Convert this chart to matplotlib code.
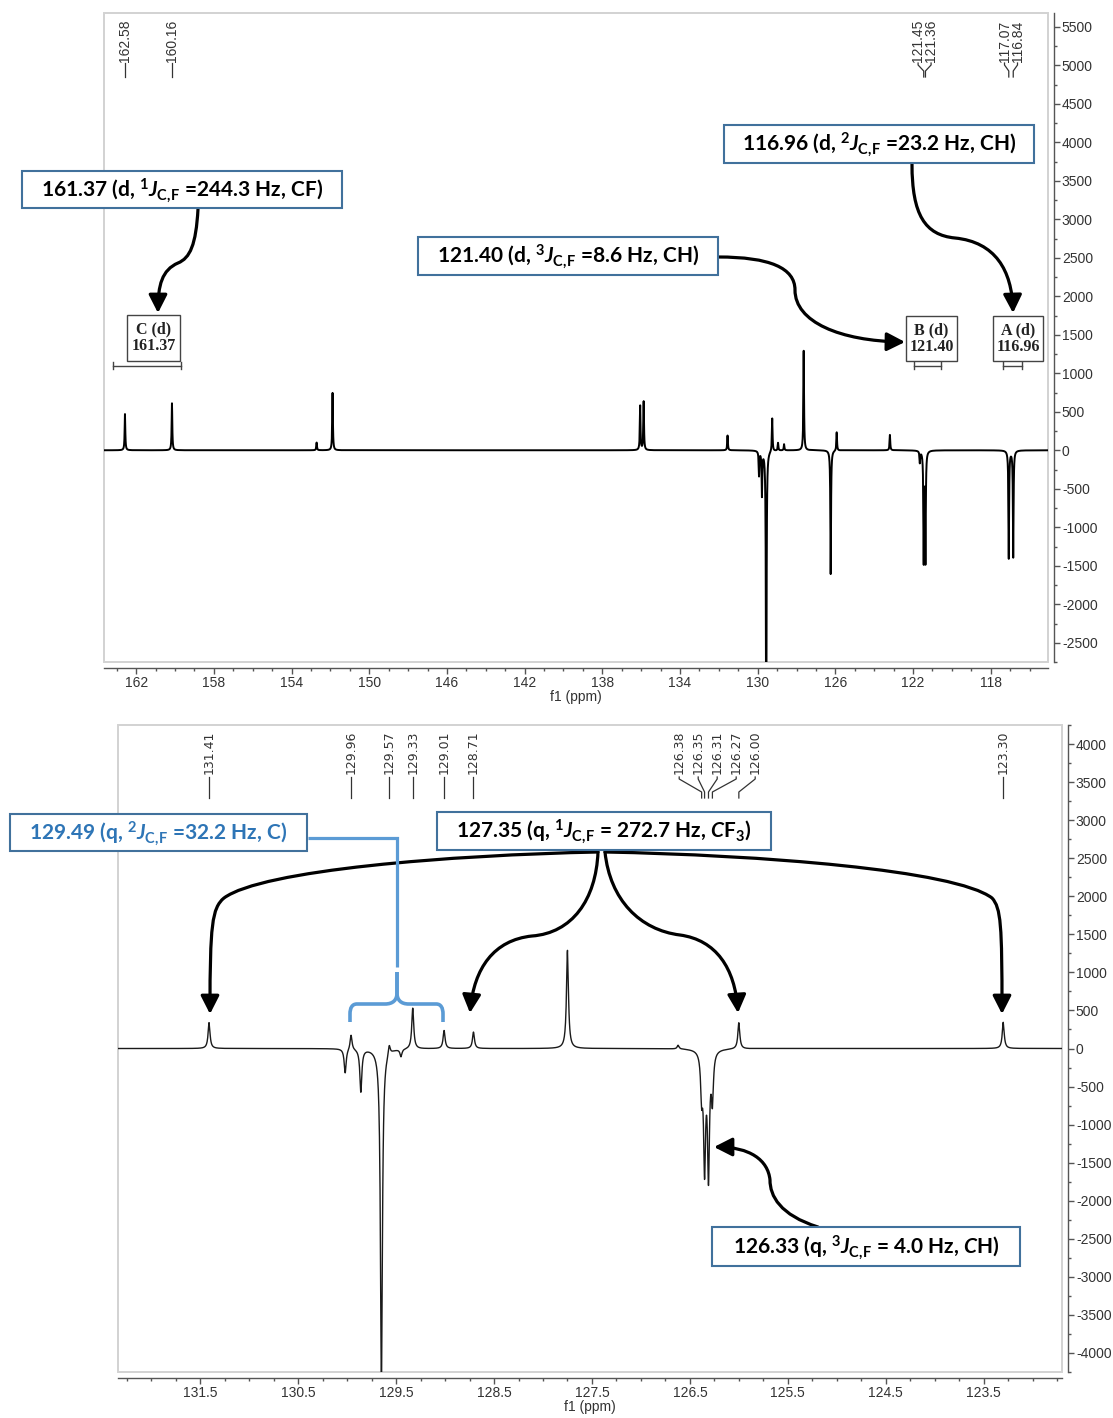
import numpy as np
import matplotlib
matplotlib.use("Agg")
import matplotlib.pyplot as plt
import matplotlib.transforms as mtransforms
from matplotlib.patches import Rectangle, FancyArrowPatch, ArrowStyle, PathPatch
from matplotlib.path import Path

W, H = 1113, 1418

# ---------------- data: full 13C spectrum (upper panel) ----------------
top_ppm = [162.58, 160.16, 152.71, 151.89, 136.05, 135.87, 131.55, 129.93, 129.78,
           129.56, 129.25, 128.95, 128.64, 127.63, 126.24, 125.93, 123.19, 121.65,
           121.45, 121.36, 117.07, 116.84]
top_height = [470, 610, 100, 745, 576, 631, 192, -320, -572,
              -4100, 431, 100, 80, 1293, -1609, 240, 200, -150,
              -1420, -1420, -1400, -1385]
top_xlim = (163.66, 115.05)
top_ylim = (-2628, 5679)
top_xticks = [162, 158, 154, 150, 146, 142, 138, 134, 130, 126, 122, 118]
top_yticks = [-2500, -2000, -1500, -1000, -500, 0, 500, 1000, 1500, 2000,
              2500, 3000, 3500, 4000, 4500, 5000, 5500]
top_peak_labels = [162.58, 160.16, 121.45, 121.36, 117.07, 116.84]

# multiplet tags in the upper panel
mult_names = ["C (d)", "B (d)", "A (d)"]
mult_values = ["161.37", "121.40", "116.96"]
mult_ranges = [(163.18, 159.71), (121.95, 120.56), (117.38, 116.37)]

# ---------------- data: expansion 122.7-132.3 ppm (lower panel) ----------------
bot_ppm = [131.41, 130.02, 129.96, 129.86, 129.65, 129.57, 129.45, 129.33, 129.01,
           128.71, 127.75, 126.62, 126.38, 126.35, 126.31, 126.27, 126.00, 123.30]
bot_height = [340, -320, 200, -562, -4400, 135, -100, 537, 237,
              216, 1290, 50, -540, -1500, -1610, -620, 344, 344]
bot_xlim = (132.34, 122.70)
bot_ylim = (-4154, 4154)
bot_xticks = [131.5, 130.5, 129.5, 128.5, 127.5, 126.5, 125.5, 124.5, 123.5]
bot_yticks = [-4000, -3500, -3000, -2500, -2000, -1500, -1000, -500, 0, 500,
              1000, 1500, 2000, 2500, 3000, 3500, 4000]
bot_peak_labels = [131.41, 129.96, 129.57, 129.33, 129.01, 128.71,
                   126.38, 126.35, 126.31, 126.27, 126.00, 123.30]

# ---------------- fonts ----------------
TICKFONT = ["Liberation Sans", "DejaVu Sans"]
plt.rcParams["mathtext.fontset"] = "custom"
plt.rcParams["mathtext.rm"] = "Lato:bold"
plt.rcParams["mathtext.bf"] = "Lato:bold"
plt.rcParams["mathtext.it"] = "Lato:italic:bold"

BOX_EDGE = "#41719C"
BLUE_TXT = "#2E75B6"
BRACKET = "#5B9BD5"
AX_GREY = "#555555"
TXT_GREY = "#333333"


def lorentz_trace(lo, hi, step, centers, heights, hwhm):
    grid = np.union1d(np.arange(lo, hi, step), np.asarray(centers))
    y = np.zeros_like(grid)
    for c, h in zip(centers, heights):
        y += h / (1.0 + ((grid - c) / hwhm) ** 2)
    return grid, y


fig = plt.figure(figsize=(W / 100, H / 100), dpi=100)
fig.patch.set_facecolor("white")


def fig_rect(l, t, r, b):
    return [l / W, 1 - b / H, (r - l) / W, (b - t) / H]


# pixel (y down) -> figure transform for overlay drawings
PX = mtransforms.Affine2D().scale(1 / W, -1 / H).translate(0, 1) + fig.transFigure

ax1 = fig.add_axes(fig_rect(104, 13, 1048, 662))
ax2 = fig.add_axes(fig_rect(118, 725, 1062, 1372))


def style_axes(ax, xlim, ylim, xt, xt_minor, xt_labels, yt, yt_minor):
    ax.set_xlim(*xlim)
    ax.set_ylim(*ylim)
    ax.set_facecolor("white")
    for s in ("top", "left"):
        ax.spines[s].set_visible(False)
    for s in ("right", "bottom"):
        ax.spines[s].set_position(("outward", 4))
        ax.spines[s].set_color(AX_GREY)
        ax.spines[s].set_linewidth(1.0)
    ax.add_patch(Rectangle((0, 0), 1, 1, transform=ax.transAxes, fill=False,
                           ec="#d2d2d2", lw=1.4, clip_on=False, zorder=0))
    ax.yaxis.tick_right()
    ax.set_xticks(xt, labels=xt_labels, fontsize=10, family=TICKFONT, color=TXT_GREY)
    ax.set_xticks(xt_minor, minor=True)
    ax.set_yticks(yt, labels=[str(v) for v in yt], fontsize=10, family=TICKFONT,
                  color=TXT_GREY)
    ax.set_yticks(yt_minor, minor=True)
    ax.tick_params(which="both", direction="out", color=AX_GREY, width=1)
    ax.tick_params(which="major", length=4.5, pad=1.5)
    ax.tick_params(which="minor", length=2.5)
    ax.set_xlabel("f1 (ppm)", fontsize=10, family=TICKFONT, color=TXT_GREY, labelpad=0)


style_axes(ax1, top_xlim, top_ylim, top_xticks, np.arange(116, 164, 1),
           [str(v) for v in top_xticks], top_yticks, np.arange(-2750, 5700, 250))
style_axes(ax2, bot_xlim, bot_ylim, bot_xticks, np.arange(122.75, 132.4, 0.25),
           [f"{v:.1f}" for v in bot_xticks], bot_yticks, np.arange(-4250, 4300, 250))

# spectra
gx, gy = lorentz_trace(top_xlim[1], top_xlim[0], 0.004, top_ppm, top_height, 0.02)
ax1.plot(gx, gy, color="black", lw=1.4, zorder=2)
bx, by = lorentz_trace(bot_xlim[1], bot_xlim[0], 0.002, bot_ppm, bot_height, 0.012)
ax2.plot(bx, by, color="#1a1a1a", lw=1.0, zorder=2)


# ---------------- peak labels ----------------
def spread(xs, gap):
    clusters = [[x] for x in sorted(xs)]
    merged = True
    while merged:
        merged = False
        spans = []
        for c in clusters:
            m, n = np.mean(c), len(c)
            spans.append((m - gap * (n - 1) / 2, m + gap * (n - 1) / 2))
        for i in range(len(clusters) - 1):
            if spans[i][1] + gap > spans[i + 1][0]:
                clusters[i] = clusters[i] + clusters[i + 1]
                del clusters[i + 1]
                merged = True
                break
    out = []
    for c in clusters:
        m, n = np.mean(c), len(c)
        out += list(m + gap * (np.arange(n) - (n - 1) / 2))
    return out


def peak_labels(ax, peaks, rect_px, gap_px, fsize, family, y_txt, y_a, y_b, y_c,
                shift_px=0.0):
    l, t, r, b = rect_px
    x0, x1 = ax.get_xlim()
    ppm_per_px = (x0 - x1) / (r - l)
    yfrac = lambda y: (b - y) / (b - t)
    trans = mtransforms.blended_transform_factory(ax.transData, ax.transAxes)
    order = sorted(peaks, reverse=True)
    # spread in "minus ppm" so that positions increase left to right
    pos = spread([-p for p in order], gap_px * ppm_per_px)
    for p, q in zip(order, pos):
        xl = -q
        if abs(xl - p) > 1e-9:
            xl -= shift_px * ppm_per_px
        ax.text(xl, yfrac(y_txt), f"{p:.2f}", rotation=90, rotation_mode="anchor",
                ha="left", va="center", fontsize=fsize, family=family,
                color=TXT_GREY, transform=trans, clip_on=False)
        ax.plot([xl, xl, p, p], [yfrac(y_a), yfrac(y_a + 2), yfrac(y_b), yfrac(y_c)],
                color=TXT_GREY, lw=0.9, transform=trans, clip_on=False)


peak_labels(ax1, top_peak_labels, (104, 13, 1048, 662), 13, 10,
            ["Liberation Sans", "DejaVu Sans"], 62, 63, 71, 77)
peak_labels(ax2, bot_peak_labels, (118, 725, 1062, 1372), 19, 9,
            ["DejaVu Sans"], 774, 777, 792, 798, shift_px=4)

# ---------------- multiplet tags (upper panel) ----------------
tag_boxes_px = [(127, 315, 180, 361), (906, 316, 957, 361), (993, 316, 1043, 361)]
trans1 = mtransforms.blended_transform_factory(ax1.transData, ax1.transAxes)
bar_y = (662 - 366) / (662 - 13)
tick_h = 3.5 / (662 - 13)
for name, val, (a, bnd), (l, t, r, b) in zip(mult_names, mult_values, mult_ranges,
                                             tag_boxes_px):
    fig.add_artist(Rectangle((l, t), r - l, b - t, transform=PX, fill=True,
                             fc="white", ec="#444444", lw=1.0))
    fig.text(((l + r) / 2) / W, 1 - ((t + b) / 2) / H, f"{name}\n{val}",
             ha="center", va="center", fontsize=11.5, fontweight="bold",
             family=["Liberation Serif", "DejaVu Serif"], linespacing=1.05,
             color="#222222")
    ax1.plot([a, bnd], [bar_y, bar_y], color="#444444", lw=1.0, transform=trans1,
             clip_on=False)
    for e in (a, bnd):
        ax1.plot([e, e], [bar_y - tick_h, bar_y + tick_h], color="#444444", lw=1.0,
                 transform=trans1, clip_on=False)

# ---------------- coupling annotation boxes ----------------
JCF = r"J_{\mathrm{C,\!F}}"
notes = [
    ((22, 171, 342, 208), r"161.37 (d, $^{1}" + JCF + r"$ =244.3 Hz, CF)", "black"),
    ((418, 237, 718, 275), r"121.40 (d, $^{3}" + JCF + r"$ =8.6 Hz, CH)", "black"),
    ((724, 125, 1034, 163), r"116.96 (d, $^{2}" + JCF + r"$ =23.2 Hz, CH)", "black"),
    ((10, 814, 307, 851), r"129.49 (q, $^{2}" + JCF + r"$ =32.2 Hz, C)", BLUE_TXT),
    ((437, 812, 771, 850), r"127.35 (q, $^{1}" + JCF + r"$ = 272.7 Hz, $C$F$_{3}$)", "black"),
    ((712, 1227, 1020, 1266), r"126.33 (q, $^{3}" + JCF + r"$ = 4.0 Hz, $C$H)", "black"),
]
for (l, t, r, b), s, col in notes:
    fig.add_artist(Rectangle((l, t), r - l, b - t, transform=PX, fc="white",
                             ec=BOX_EDGE, lw=1.5, zorder=5))
    fig.text(((l + r) / 2) / W, 1 - ((t + b) / 2 + 1) / H, s, ha="center",
             va="center", fontsize=15, family="Lato", fontweight="bold", color=col,
             zorder=6)

# ---------------- curved arrows ----------------
M, C = Path.MOVETO, Path.CURVE4
arrow_paths = [
    [(198, 209), (196, 245), (190, 258), (178, 263), (162, 270), (158, 285), (158, 313)],
    [(718, 257), (770, 257), (795, 268), (795, 290), (795, 322), (840, 341), (905, 342)],
    [(912, 164), (912, 215), (925, 235), (955, 238), (995, 242), (1012, 270), (1013, 313)],
    [(598, 852), (450, 855), (262, 870), (224, 898), (212, 908), (210, 925), (210, 1014)],
    [(605, 852), (760, 855), (955, 870), (992, 898), (1001, 908), (1002, 925), (1002, 1014)],
    [(598, 852), (596, 900), (572, 933), (532, 936), (494, 940), (474, 968), (470, 1013)],
    [(605, 852), (610, 900), (640, 930), (680, 935), (716, 940), (735, 968), (738, 1013)],
    [(818, 1227), (780, 1215), (770, 1196), (770, 1180), (768, 1160), (750, 1147), (714, 1147)],
]
head = ArrowStyle("-|>", head_length=0.55, head_width=0.28)
for pts in arrow_paths:
    p = Path(pts, [M, C, C, C, C, C, C])
    fig.add_artist(FancyArrowPatch(path=p, arrowstyle=head, mutation_scale=20,
                                   color="black", lw=2.3, transform=PX, zorder=4))

# blue bracket linking the quaternary-carbon quartet to its label
L = Path.LINETO
fig.add_artist(PathPatch(Path([(308, 838), (397, 838), (397, 967)], [M, L, L]),
                         transform=PX, fill=False, ec=BRACKET, lw=2.3, zorder=4))
brace = [(397, 972), (397, 993), (397, 1000), (393, 1004), (385, 1004), (357, 1004),
         (352, 1004), (350, 1008), (350, 1014), (350, 1022)]
brace_codes = [M, L, C, C, C, L, C, C, C, L]
brace_r = [(397 + (397 - x) * 46 / 47, y) for x, y in brace]
for pts in (brace, brace_r):
    fig.add_artist(PathPatch(Path(pts, brace_codes), transform=PX, fill=False,
                             ec=BRACKET, lw=2.6, capstyle="butt", zorder=4))

fig.savefig("out.png", dpi=100, facecolor="white")
